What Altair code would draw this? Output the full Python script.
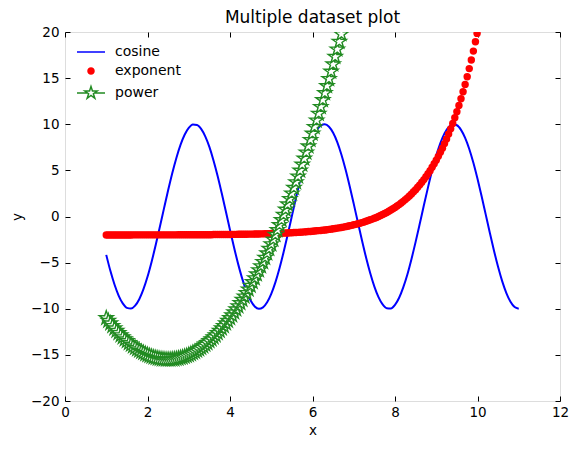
import math
import altair as alt
import pandas as pd

# ---------------- data ----------------
cos_x = [1.0, 1.1, 1.2, 1.3, 1.4, 1.5, 1.6, 1.7, 1.8, 1.9,
         2.0, 2.1, 2.2, 2.3, 2.4, 2.5, 2.6, 2.7, 2.8, 2.9,
         3.0, 3.1, 3.2, 3.3, 3.4, 3.5, 3.6, 3.7, 3.8, 3.9,
         4.0, 4.1, 4.2, 4.3, 4.4, 4.5, 4.6, 4.7, 4.8, 4.9,
         5.0, 5.1, 5.2, 5.3, 5.4, 5.5, 5.6, 5.7, 5.8, 5.9,
         6.0, 6.1, 6.2, 6.3, 6.4, 6.5, 6.6, 6.7, 6.8, 6.9,
         7.0, 7.1, 7.2, 7.3, 7.4, 7.5, 7.6, 7.7, 7.8, 7.9,
         8.0, 8.1, 8.2, 8.3, 8.4, 8.5, 8.6, 8.7, 8.8, 8.9,
         9.0, 9.1, 9.2, 9.3, 9.4, 9.5, 9.6, 9.7, 9.8, 9.9,
         10.0, 10.1, 10.2, 10.3, 10.4, 10.5, 10.6, 10.7, 10.8, 10.9,
         11.0]
cos_y = [-4.16, -5.89, -7.37, -8.57, -9.42, -9.90, -9.98, -9.67, -8.97, -7.91,
         -6.54, -4.90, -3.07, -1.12, 0.88, 2.84, 4.69, 6.35, 7.76, 8.86,
         9.60, 9.97, 9.93, 9.50, 8.69, 7.54, 6.08, 4.39, 2.51, 0.54,
         -1.46, -3.39, -5.19, -6.79, -8.11, -9.11, -9.75, -10.00, -9.85, -9.30,
         -8.39, -7.14, -5.61, -3.85, -1.94, 0.04, 2.03, 3.94, 5.68, 7.20,
         8.44, 9.34, 9.86, 9.99, 9.73, 9.07, 8.06, 6.72, 5.12, 3.31,
         1.37, -0.63, -2.60, -4.47, -6.15, -7.60, -8.74, -9.53, -9.94, -9.96,
         -9.58, -8.81, -7.68, -6.28, -4.60, -2.75, -0.79, 1.21, 3.16, 4.98,
         6.60, 7.96, 9.01, 9.69, 9.99, 9.89, 9.39, 8.52, 7.32, 5.82,
         4.08, 2.19, 0.20, -1.79, -3.71, -5.48, -7.03, -8.30, -9.24, -9.82,
         -10.00]

exp_x = [1.00, 1.05, 1.10, 1.15, 1.20, 1.25, 1.30, 1.35, 1.40, 1.45,
         1.50, 1.55, 1.60, 1.65, 1.70, 1.75, 1.80, 1.85, 1.90, 1.95,
         2.00, 2.05, 2.10, 2.15, 2.20, 2.25, 2.30, 2.35, 2.40, 2.45,
         2.50, 2.55, 2.60, 2.65, 2.70, 2.75, 2.80, 2.85, 2.90, 2.95,
         3.00, 3.05, 3.10, 3.15, 3.20, 3.25, 3.30, 3.35, 3.40, 3.45,
         3.50, 3.55, 3.60, 3.65, 3.70, 3.75, 3.80, 3.85, 3.90, 3.95,
         4.00, 4.05, 4.10, 4.15, 4.20, 4.25, 4.30, 4.35, 4.40, 4.45,
         4.50, 4.55, 4.60, 4.65, 4.70, 4.75, 4.80, 4.85, 4.90, 4.95,
         5.00, 5.05, 5.10, 5.15, 5.20, 5.25, 5.30, 5.35, 5.40, 5.45,
         5.50, 5.55, 5.60, 5.65, 5.70, 5.75, 5.80, 5.85, 5.90, 5.95,
         6.00, 6.05, 6.10, 6.15, 6.20, 6.25, 6.30, 6.35, 6.40, 6.45,
         6.50, 6.55, 6.60, 6.65, 6.70, 6.75, 6.80, 6.85, 6.90, 6.95,
         7.00, 7.05, 7.10, 7.15, 7.20, 7.25, 7.30, 7.35, 7.40, 7.45,
         7.50, 7.55, 7.60, 7.65, 7.70, 7.75, 7.80, 7.85, 7.90, 7.95,
         8.00, 8.05, 8.10, 8.15, 8.20, 8.25, 8.30, 8.35, 8.40, 8.45,
         8.50, 8.55, 8.60, 8.65, 8.70, 8.75, 8.80, 8.85, 8.90, 8.95,
         9.00, 9.05, 9.10, 9.15, 9.20, 9.25, 9.30, 9.35, 9.40, 9.45,
         9.50, 9.55, 9.60, 9.65, 9.70, 9.75, 9.80, 9.85, 9.90, 9.95,
         9.99]
exp_y = [-2.00, -2.00, -2.00, -2.00, -2.00, -2.00, -2.00, -2.00, -2.00, -2.00,
         -2.00, -2.00, -2.00, -1.99, -1.99, -1.99, -1.99, -1.99, -1.99, -1.99,
         -1.99, -1.99, -1.99, -1.99, -1.99, -1.99, -1.99, -1.99, -1.99, -1.99,
         -1.99, -1.99, -1.99, -1.99, -1.99, -1.98, -1.98, -1.98, -1.98, -1.98,
         -1.98, -1.98, -1.98, -1.98, -1.98, -1.97, -1.97, -1.97, -1.97, -1.97,
         -1.97, -1.97, -1.96, -1.96, -1.96, -1.96, -1.96, -1.95, -1.95, -1.95,
         -1.95, -1.94, -1.94, -1.94, -1.93, -1.93, -1.93, -1.92, -1.92, -1.91,
         -1.91, -1.91, -1.90, -1.90, -1.89, -1.88, -1.88, -1.87, -1.87, -1.86,
         -1.85, -1.84, -1.84, -1.83, -1.82, -1.81, -1.80, -1.79, -1.78, -1.77,
         -1.76, -1.74, -1.73, -1.72, -1.70, -1.69, -1.67, -1.65, -1.63, -1.62,
         -1.60, -1.58, -1.55, -1.53, -1.51, -1.48, -1.46, -1.43, -1.40, -1.37,
         -1.33, -1.30, -1.26, -1.23, -1.19, -1.15, -1.10, -1.06, -1.01, -0.96,
         -0.90, -0.85, -0.79, -0.73, -0.66, -0.59, -0.52, -0.44, -0.36, -0.28,
         -0.19, -0.10, 0.00, 0.10, 0.21, 0.32, 0.44, 0.57, 0.70, 0.84,
         0.98, 1.13, 1.29, 1.46, 1.64, 1.83, 2.02, 2.23, 2.45, 2.68,
         2.91, 3.17, 3.43, 3.71, 4.00, 4.31, 4.63, 4.97, 5.33, 5.71,
         6.10, 6.52, 6.96, 7.41, 7.90, 8.40, 8.94, 9.50, 10.09, 10.71,
         11.36, 12.04, 12.76, 13.52, 14.32, 15.15, 16.03, 16.96, 17.93, 18.95,
         19.85]

pow_x = exp_x[:115]
pow_y = [-11.00, -11.30, -11.58, -11.86, -12.12, -12.38, -12.62, -12.86, -13.08, -13.30,
         -13.50, -13.70, -13.88, -14.06, -14.22, -14.38, -14.52, -14.66, -14.78, -14.90,
         -15.00, -15.10, -15.18, -15.26, -15.32, -15.38, -15.42, -15.46, -15.48, -15.50,
         -15.50, -15.50, -15.48, -15.46, -15.42, -15.38, -15.32, -15.26, -15.18, -15.10,
         -15.00, -14.90, -14.78, -14.66, -14.52, -14.38, -14.22, -14.06, -13.88, -13.70,
         -13.50, -13.30, -13.08, -12.86, -12.62, -12.38, -12.12, -11.86, -11.58, -11.30,
         -11.00, -10.70, -10.38, -10.06, -9.72, -9.38, -9.02, -8.66, -8.28, -7.90,
         -7.50, -7.10, -6.68, -6.26, -5.82, -5.38, -4.92, -4.46, -3.98, -3.50,
         -3.00, -2.50, -1.98, -1.46, -0.92, -0.38, 0.18, 0.75, 1.32, 1.91,
         2.50, 3.11, 3.72, 4.35, 4.98, 5.63, 6.28, 6.95, 7.62, 8.31,
         9.00, 9.71, 10.42, 11.15, 11.88, 12.63, 13.38, 14.15, 14.92, 15.71,
         16.50, 17.31, 18.12, 18.95, 19.78]

series_names = ["cosine", "exponent", "power"]
x_ticks = [0, 2, 4, 6, 8, 10, 12]
y_ticks = [-20, -15, -10, -5, 0, 5, 10, 15, 20]

# ---------------- styling ----------------
BLUE = "#0000ff"
RED = "#ff0000"
GREEN = "#228b22"
FONT = "DejaVu Sans"


def ring(r, n=16):
    pts = [(r * math.cos(2 * math.pi * i / n), r * math.sin(2 * math.pi * i / n)) for i in range(n)]
    return "M" + "L".join(f"{a:.3f},{b:.3f}" for a, b in pts) + "Z"


def star(r):
    pts = []
    for i in range(10):
        ang = math.radians(-90 + 36 * i)
        rr = r if i % 2 == 0 else r * 0.381966
        pts.append((rr * math.cos(ang), rr * math.sin(ang)))
    return "M" + "L".join(f"{a:.4f},{b:.4f}" for a, b in pts) + "Z"


LEG_LINE = "M-2.8,0L2.8,0"
LEG_DOT = ring(0.6) + ring(0.44) + ring(0.28) + ring(0.12)
LEG_STAR = "M-2.8,0L-0.68,0M0.68,0L2.8,0" + star(1.3)
DATA_STAR = star(1.0)

x_scale = alt.Scale(domain=[0, 12], nice=False, zero=False)
y_scale = alt.Scale(domain=[-20, 20], nice=False, zero=False)
color_scale = alt.Scale(domain=series_names, range=[BLUE, RED, GREEN])
shape_scale = alt.Scale(domain=series_names, range=[LEG_LINE, LEG_DOT, LEG_STAR])

common_axis = dict(grid=False, domain=False, ticks=True, tickSize=5, offset=-5,
                   tickColor="black", tickWidth=1, labelColor="black",
                   labelFont=FONT, labelFontSize=13.5, titleFont=FONT, titleFontSize=13.5,
                   titleFontWeight="normal", titleColor="black", labelFlush=False,
                   labelOverlap=False)

ax_bottom = alt.Axis(orient="bottom", values=x_ticks, format="d", title="x",
                     labelPadding=4, titlePadding=5, **common_axis)
ax_left = alt.Axis(orient="left", values=y_ticks, format="d", title="y",
                   labelPadding=6, titlePadding=6, **common_axis)
ax_top = alt.Axis(orient="top", values=x_ticks, labels=False, title=None,
                  grid=False, domain=False, ticks=True, tickSize=5, offset=-5,
                  tickColor="black", tickWidth=1)
ax_right = alt.Axis(orient="right", values=y_ticks, labels=False, title=None,
                    grid=False, domain=False, ticks=True, tickSize=5, offset=-5,
                    tickColor="black", tickWidth=1)

legend_opts = dict(title=None, orient="none", legendX=0, legendY=13, padding=0,
                   rowPadding=5, symbolSize=100, symbolStrokeWidth=1.5,
                   symbolOffset=19, labelOffset=17, labelFont=FONT,
                   labelFontSize=14, labelColor="black")

cos_df = pd.DataFrame({"x": cos_x, "y": cos_y})
exp_df = pd.DataFrame({"x": exp_x, "y": exp_y})
pow_df = pd.DataFrame({"x": pow_x, "y": pow_y})
leg_df = pd.DataFrame({"series": series_names})

cosine = alt.Chart(cos_df).mark_line(color=BLUE, strokeWidth=2, interpolate="monotone", clip=True).encode(
    x=alt.X("x:Q", scale=x_scale, axis=ax_bottom),
    y=alt.Y("y:Q", scale=y_scale, axis=ax_left),
)

exponent = alt.Chart(exp_df).mark_circle(color=RED, size=55, opacity=1, clip=True).encode(
    x=alt.X("x:Q", scale=x_scale, axis=None),
    y=alt.Y("y:Q", scale=y_scale, axis=None),
)

power_line = alt.Chart(pow_df).mark_line(color=GREEN, strokeWidth=1.2, clip=True).encode(
    x=alt.X("x:Q", scale=x_scale, axis=None),
    y=alt.Y("y:Q", scale=y_scale, axis=None),
)

power_pts = alt.Chart(pow_df).mark_point(shape=DATA_STAR, size=215, filled=True, fill="white",
                                         stroke=GREEN, strokeWidth=1.4, opacity=1, clip=True).encode(
    x=alt.X("x:Q", scale=x_scale, axis=None),
    y=alt.Y("y:Q", scale=y_scale, axis=None),
)

legend_layer = alt.Chart(leg_df).mark_point(filled=False, opacity=1, strokeWidth=1.5).encode(
    x=alt.X("x:Q", scale=x_scale, axis=ax_top),
    y=alt.Y("y:Q", scale=y_scale, axis=ax_right),
    color=alt.Color("series:N", scale=color_scale, legend=alt.Legend(**legend_opts)),
    shape=alt.Shape("series:N", scale=shape_scale, legend=alt.Legend(**legend_opts)),
)

chart = alt.layer(cosine, exponent, power_line, power_pts, legend_layer).resolve_axis(
    x="independent", y="independent"
).properties(
    width=495,
    height=369,
    title=alt.TitleParams("Multiple dataset plot", font=FONT, fontSize=17, fontWeight="normal",
                          color="black", anchor="middle", offset=5, dy=7, frame="group"),
    autosize=alt.AutoSizeParams(type="none"),
    padding={"left": 57, "top": 24, "right": 11, "bottom": 40},
).configure_view(
    stroke="black", strokeWidth=1
).configure(background="white")

chart.save("out.html", embed_options={"renderer": "svg", "actions": False})
